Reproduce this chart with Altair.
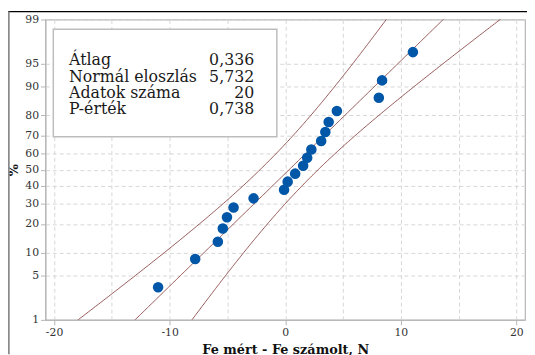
import altair as alt
import pandas as pd
from statistics import NormalDist

# ---- data ----
diff_values = [-11.0, -7.79, -5.83, -5.40, -5.04, -4.47, -2.74, -0.10, 0.21, 0.86,
               1.55, 1.90, 2.26, 3.11, 3.47, 3.76, 4.47, 8.10, 8.38, 11.05]
percent_values = [3.43, 8.33, 13.24, 18.14, 23.04, 27.94, 32.84, 37.75, 42.65, 47.55,
                  52.45, 57.35, 62.25, 67.16, 72.06, 76.96, 81.86, 86.76, 91.67, 96.57]
y_tick_percents = [1, 5, 10, 20, 30, 40, 50, 60, 70, 80, 90, 95, 99]
x_tick_values = [-20, -15, -10, -5, 0, 5, 10, 15, 20]
mean_value = 0.336
sd_value = 5.732
n_value = 20
stat_labels = ["Átlag", "Normál eloszlás", "Adatok száma", "P-érték"]
stat_values = ["0,336", "5,732", "20", "0,738"]

nd = NormalDist()
y_tick_z = [nd.inv_cdf(p / 100) for p in y_tick_percents]
y_dom = [nd.inv_cdf(0.01), nd.inv_cdf(0.99)]

FONT = "DejaVu Serif"
LINE_COLOR = "#7b2d2d"
PT_COLOR = "#0057a8"

points_df = pd.DataFrame({"x": diff_values, "pct": percent_values})

xscale = alt.Scale(domain=[-20.75, 20.75], nice=False, zero=False)
yscale = alt.Scale(domain=y_dom, nice=False, zero=False)

xaxis = alt.Axis(
    values=x_tick_values,
    labelExpr="datum.value % 10 === 0 ? '' + datum.value : ''",
    tickOpacity={"condition": {"test": "datum.value % 10 !== 0", "value": 0}, "value": 1},
    title="Fe mért - Fe számolt, N",
    grid=True,
    labelOverlap=False,
)
yaxis = alt.Axis(
    values=y_tick_z,
    labelExpr="'' + round(cumulativeNormal(datum.value) * 100)",
    title="%",
    grid=True,
    labelOverlap=False,
)

bands = (
    alt.Chart(alt.sequence(start=-3.2, stop=3.21, step=0.02, as_="z"))
    .transform_calculate(
        fit=f"{mean_value} + {sd_value} * datum.z",
        se=f"{sd_value} * sqrt(1 / {n_value} + datum.z * datum.z / (2 * ({n_value} - 1)))",
    )
    .transform_calculate(lo="datum.fit - 1.96 * datum.se", hi="datum.fit + 1.96 * datum.se")
    .transform_fold(["lo", "fit", "hi"], as_=["series", "xv"])
    .mark_line(color=LINE_COLOR, strokeWidth=0.8, clip=True)
    .encode(
        x=alt.X("xv:Q", scale=xscale, axis=xaxis),
        y=alt.Y("z:Q", scale=yscale, axis=yaxis),
        detail="series:N",
        order="z:Q",
    )
)

points = (
    alt.Chart(points_df)
    .transform_calculate(z="quantileNormal(datum.pct / 100)")
    .mark_circle(color=PT_COLOR, size=115, opacity=1)
    .encode(x=alt.X("x:Q", scale=xscale, axis=xaxis), y=alt.Y("z:Q", scale=yscale, axis=yaxis))
)

box = alt.Chart(pd.DataFrame({"a": [0]})).mark_rect(
    fill="white", stroke="#bdbdbd", strokeWidth=1.5
).encode(x=alt.value(8), x2=alt.value(235), y=alt.value(10), y2=alt.value(119))

labels_txt = alt.Chart(pd.DataFrame({"t": [stat_labels]})).mark_text(
    align="left", baseline="alphabetic", font=FONT, fontSize=16, lineHeight=16.5, color="#1a1a1a"
).encode(x=alt.value(24), y=alt.value(46.5), text="t")

values_txt = alt.Chart(pd.DataFrame({"t": [stat_values]})).mark_text(
    align="right", baseline="alphabetic", font=FONT, fontSize=16, lineHeight=16.5, color="#1a1a1a"
).encode(x=alt.value(212), y=alt.value(46.5), text="t")

frame_top = alt.Chart(pd.DataFrame({"a": [0]})).mark_rule(color="black", strokeWidth=1.5).encode(
    x=alt.value(-38), x2=alt.value(489), y=alt.value(-8)
)
frame_left = alt.Chart(pd.DataFrame({"a": [0]})).mark_rule(color="#8a8a8a", strokeWidth=2.5).encode(
    x=alt.value(-37.5), y=alt.value(-8), y2=alt.value(340)
)

chart = (
    alt.layer(bands, points, box, labels_txt, values_txt, frame_top, frame_left)
    .properties(
        width=487,
        height=305,
        padding={"left": 38, "top": 9, "right": 2, "bottom": 33},
        autosize=alt.AutoSizeParams(type="none"),
    )
    .configure_view(stroke="#b5b5b5", strokeWidth=1.2)
    .configure_axis(
        labelFont=FONT,
        labelFontSize=11,
        labelColor="#333333",
        labelOverlap=False,
        titleFont=FONT,
        titleFontSize=13,
        titleFontWeight="bold",
        titleColor="#111111",
        domainColor="#b5b5b5",
        tickColor="#b5b5b5",
        tickSize=5,
        labelPadding=2,
        gridColor="#d6d6d6",
        gridDash=[4, 3],
        gridWidth=1,
    )
    .configure_axisX(titlePadding=6)
    .configure_axisY(titlePadding=4)
)

chart.save("out.html", embed_options={"renderer": "svg", "actions": False})
